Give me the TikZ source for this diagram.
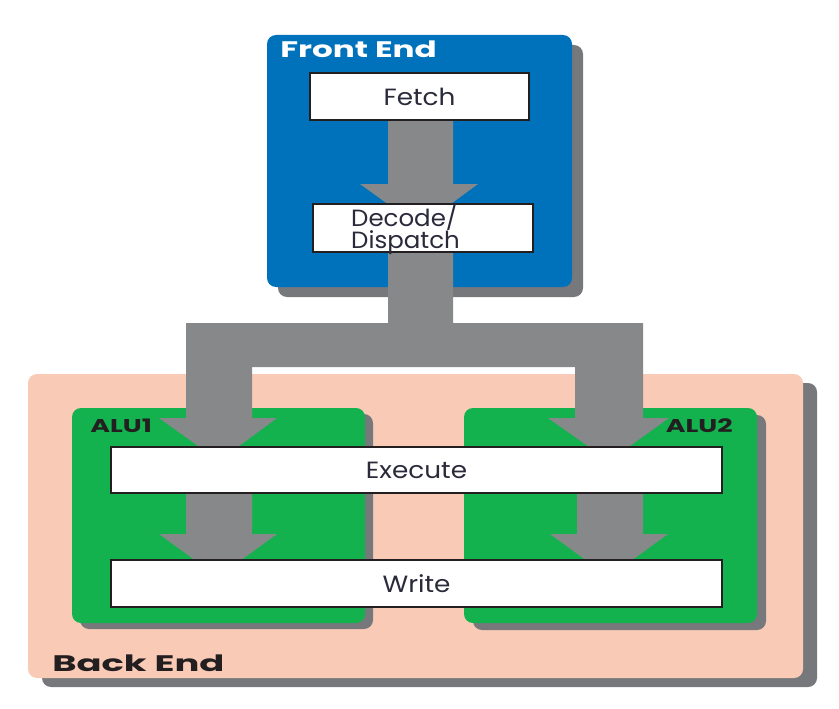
\documentclass[tikz,border=0pt]{standalone}
\usepackage{fontspec}
\setmainfont{Poppins}
\usetikzlibrary{shadows,calc}
\definecolor{feblue}{HTML}{0072BC}
\definecolor{alugreen}{HTML}{13B24F}
\definecolor{bepeach}{HTML}{F9CBB7}
\definecolor{arrgray}{HTML}{87888A}
\definecolor{shgray}{HTML}{77787B}
\definecolor{ink}{HTML}{231F20}
\definecolor{lblink}{HTML}{2A2A3A}
\begin{document}
\begin{tikzpicture}[x=1pt,y=-1pt,
  container/.style={rectangle, rounded corners=9pt, inner sep=0pt, outer sep=0pt},
  shad/.style 2 args={drop shadow={shadow xshift=#1pt, shadow yshift=-#2pt, fill=shgray, opacity=1}},
  whitebox/.style={rectangle, draw=ink, line width=1.6pt, fill=white, inner sep=0pt, outer sep=0pt},
  lbl/.style={inner sep=0pt, text=lblink, align=center, xscale=1.12,
    font=\fontsize{23.5}{22}\selectfont},
  title/.style={inner sep=0pt, xscale=1.45, font=\bfseries\fontsize{22.5}{24}\selectfont},
  alulbl/.style={inner sep=0pt, text=ink, xscale=1.45, font=\bfseries\fontsize{18.5}{20}\selectfont}]
\useasboundingbox (0,0) rectangle (839,709);

% containers
\node[container, fill=bepeach, shad={14}{9}, minimum width=775pt, minimum height=304pt] (backend) at (415.5,526) {};
\node[container, fill=alugreen, shad={8}{6}, minimum width=293pt, minimum height=215pt] (alu1) at (218.5,515.5) {};
\node[container, fill=alugreen, shad={9}{7}, minimum width=293pt, minimum height=215pt] (alu2) at (610.5,515.5) {};
\node[container, fill=feblue, shad={11}{10}, minimum width=305pt, minimum height=252pt] (frontend) at (419.5,161) {};

% stage box positions
\path coordinate (fetchc) at (419.5,96.5)
      coordinate (decodec) at (423,228)
      coordinate (executec) at (416.5,470)
      coordinate (writec) at (416.5,583.5);
\path node[minimum width=219pt, minimum height=47pt, inner sep=0pt, outer sep=0pt] (fetch) at (fetchc) {}
      node[minimum width=220pt, minimum height=48pt, inner sep=0pt, outer sep=0pt] (decode) at (decodec) {}
      node[minimum width=611pt, minimum height=46pt, inner sep=0pt, outer sep=0pt] (execute) at (executec) {}
      node[minimum width=611pt, minimum height=47pt, inner sep=0pt, outer sep=0pt] (write) at (writec) {};

% fat arrows
\begin{scope}[shift={(fetch.south)}]
  \fill[arrgray] (-31.5,0) -- (-31.5,64) -- (-59.5,64) -- (0,107) -- (58.5,64) -- (33.5,64) -- (33.5,0) -- cycle;
\end{scope}
\begin{scope}[shift={(decode.south)}]
  \fill[arrgray] (-35,0) -- (-35,71) -- (-237,71) -- (-237,166) -- (-264,166) -- (-204,209) -- (-146,166)
    -- (-171,166) -- (-171,115) -- (152,115) -- (152,166) -- (125,166) -- (186,209) -- (246,166)
    -- (220,166) -- (220,71) -- (30,71) -- (30,0) -- cycle;
\end{scope}
\begin{scope}[shift={(execute.south)}]
  \fill[arrgray] (-230.5,0) -- (-230.5,41) -- (-257.5,41) -- (-198.5,84) -- (-139.5,41) -- (-164.5,41) -- (-164.5,0) -- cycle;
  \fill[arrgray] (160.5,0) -- (160.5,41) -- (133.5,41) -- (192.5,84) -- (251.5,41) -- (226.5,41) -- (226.5,0) -- cycle;
\end{scope}

% stage boxes on top
\node[whitebox, minimum width=219pt, minimum height=47pt] (fetchbox) at (fetch) {};
\node[whitebox, minimum width=220pt, minimum height=48pt] (decodebox) at (decode) {};
\node[whitebox, minimum width=611pt, minimum height=46pt] (executebox) at (execute) {};
\node[whitebox, minimum width=611pt, minimum height=47pt] (writebox) at (write) {};
\node[lbl] (fetchlbl) at (fetch) {Fetch};
\node[lbl, align=left, xscale=0.93, anchor=west] (decodelbl) at ([xshift=38pt,yshift=-1pt]decode.west) {Decode/\\Dispatch};
\node[lbl] (executelbl) at (execute) {Execute};
\node[lbl] (writelbl) at (write) {Write};

% titles
\node[title, text=white, anchor=base west] (fetitle) at (280,58) {Front End};
\node[title, text=ink, anchor=base west, xscale=1.13] (betitle) at (52,671) {Back End};
\node[alulbl, anchor=base west] (alu1title) at (90,432) {ALU1};
\node[alulbl, anchor=base east] (alu2title) at (733,432) {ALU2};
\end{tikzpicture}
\end{document}
